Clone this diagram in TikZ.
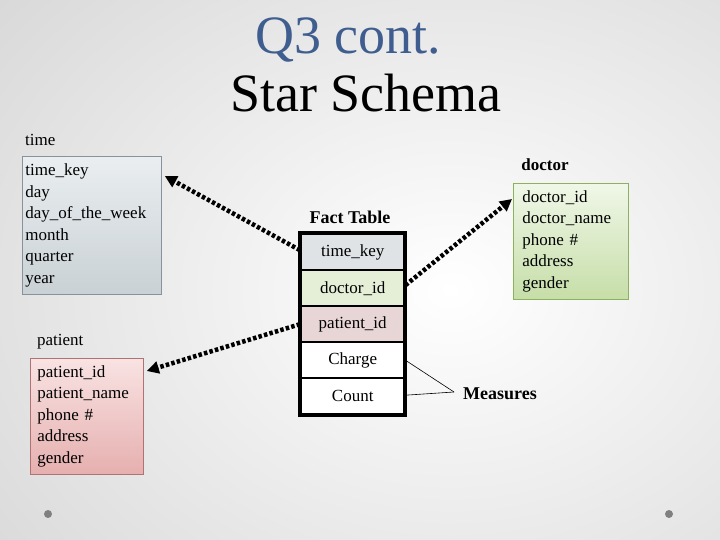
\documentclass[tikz,border=0pt]{standalone}
\usepackage{fontspec}
\setmainfont{Liberation Serif}
\usetikzlibrary{arrows.meta}
\definecolor{titleblue}{HTML}{3F5E8F}
\definecolor{bgedge}{HTML}{D6D6D6}
\definecolor{timetop}{HTML}{EAEEF0}
\definecolor{timebot}{HTML}{C9D1D5}
\definecolor{timeline}{HTML}{87929A}
\definecolor{doctop}{HTML}{F0F7E8}
\definecolor{docbot}{HTML}{C6DEA8}
\definecolor{docline}{HTML}{8CB15F}
\definecolor{pattop}{HTML}{F9E3E3}
\definecolor{patbot}{HTML}{E6AFAF}
\definecolor{patline}{HTML}{B07272}
\definecolor{rowtime}{HTML}{DFE3E6}
\definecolor{rowdoc}{HTML}{E5EFD8}
\definecolor{rowpat}{HTML}{E8D6D6}
\tikzset{
  body/.style={font=\fontsize{17}{21.5}\selectfont},
  dimbox/.style={body, draw, align=left, anchor=north west, inner ysep=0pt, line width=0.8pt},
  factrow/.style={body, draw=black, line width=2.4pt, minimum width=103pt, minimum height=36pt, inner sep=0pt, anchor=north west},
  starlink/.style={line width=4.5pt, dash pattern=on 3.5pt off 2.2pt, -{Triangle[length=12pt,width=12pt]}},
  measline/.style={line width=0.6pt},
  dot/.style={circle, fill=gray, minimum size=8pt, inner sep=0pt}
}
\begin{document}
\begin{tikzpicture}[x=1pt,y=-1pt]
\useasboundingbox (0,0) rectangle (720,540);
\begin{scope}
\clip (0,0) rectangle (720,540);
\shade[inner color=white, outer color=bgedge] (-180,-200) rectangle (1080,780);
\end{scope}
% titles
\node[font=\fontsize{54}{60}\selectfont, text=titleblue, anchor=base] (t1) at (348,54) {Q3 cont.};
\node[font=\fontsize{54}{60}\selectfont, anchor=base] (t2) at (366,112) {Star Schema};
% time
\node[body, anchor=base west, inner sep=0pt] (tlab) at (25,146) {time};
\node[dimbox, draw=timeline, top color=timetop, bottom color=timebot, inner xsep=3pt, text width=133pt, minimum height=138pt] (tbox) at (22,156)
 {time\_key\\day\\day\_of\_the\_week\\month\\quarter\\year};
% doctor
\node[body, font=\fontsize{17}{21.5}\selectfont\bfseries, inner sep=0pt] (dlab) at (545,165) {doctor};
\node[dimbox, draw=docline, top color=doctop, bottom color=docbot, inner xsep=9pt, text width=97pt, minimum height=116pt] (dbox) at (513,183)
 {doctor\_id\\doctor\_name\\phone \#\\address\\gender};
% patient
\node[body, anchor=base west, inner sep=0pt] (plab) at (37,345) {patient};
\node[dimbox, draw=patline, top color=pattop, bottom color=patbot, inner xsep=7pt, text width=99pt, minimum height=116pt] (pbox) at (30,358)
 {patient\_id\\patient\_name\\phone \#\\address\\gender};
% fact table
\node[body, font=\fontsize{18}{21.5}\selectfont\bfseries, inner sep=0pt] (flab) at (350,217) {Fact Table};
\node[factrow, fill=rowtime] (f1) at (300,233) {time\_key};
\node[factrow, fill=rowdoc] (f2) at (300,269) {doctor\_id};
\node[factrow, fill=rowpat] (f3) at (300,305) {patient\_id};
\node[factrow, fill=white] (f4) at (300,341) {Charge};
\node[factrow, fill=white] (f5) at (300,377) {Count};
\draw[line width=3.2pt] (f1.north west) rectangle (f5.south east);
% links
\draw[starlink] ([yshift=2pt]f1.west) -- ([shift={(3,20)}]tbox.north east);
\draw[starlink] ([yshift=3pt]f2.east) -- ([shift={(-1,16)}]dbox.north west);
\draw[starlink] ([yshift=0pt]f3.west) -- ([shift={(3,13)}]pbox.north east);
% measures
\node[body, font=\fontsize{18}{21.5}\selectfont\bfseries, anchor=west, inner sep=0pt] (meas) at (463,394) {Measures};
\coordinate (mp) at (454,392);
\draw[measline] (f4.east) -- (mp);
\draw[measline] ([yshift=1pt]f5.east) -- (mp);
% dots
\node[dot] (d1) at (48,514) {};
\node[dot] (d2) at (669,514) {};
\end{tikzpicture}
\end{document}
